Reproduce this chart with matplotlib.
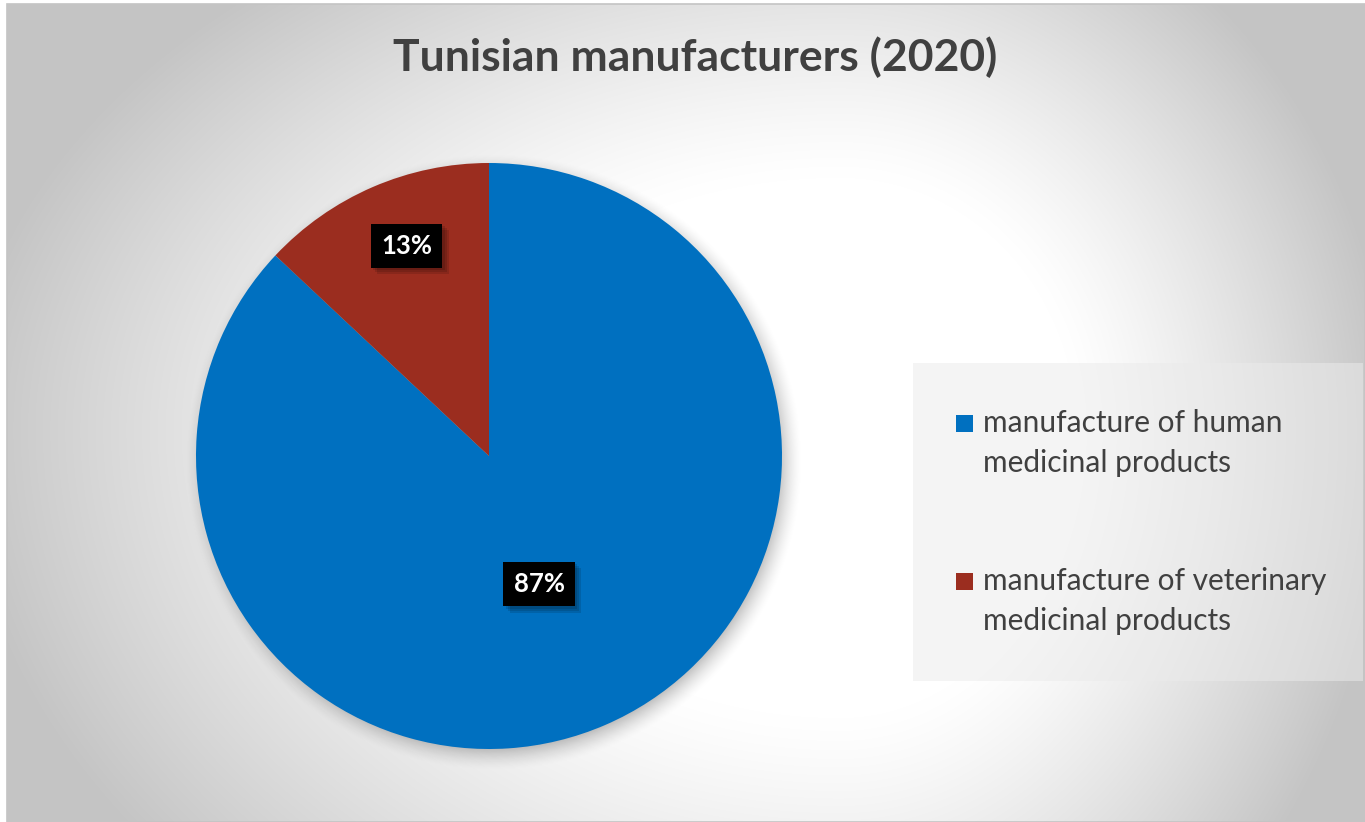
import numpy as np
import matplotlib.pyplot as plt
from matplotlib.patches import Rectangle
import matplotlib.patheffects as pe

# Share of Tunisian pharmaceutical manufacturers by activity, 2020
categories = ['manufacture of human\nmedicinal products',
              'manufacture of veterinary\nmedicinal products']
shares = [87, 13]
colors = ['#0070C0', '#9B2D1F']
title = 'Tunisian manufacturers (2020)'

W, H = 1365, 822
plt.rcParams['font.family'] = ['Lato', 'DejaVu Sans']

fig = plt.figure(figsize=(W / 100, H / 100), dpi=100)
fig.patch.set_facecolor('white')
ax = fig.add_axes([0, 0, 1, 1])

# Radial grey-to-white background of the chart area
x0, y0 = 7, 4
gx, gy = np.meshgrid(np.arange(x0, W) + 0.5, np.arange(y0, H) + 0.5)
cx, cy = 840, 430
sx = np.where(gx < cx, 840, 525)
sy = np.where(gy < cy, 560, 640)
d = np.sqrt(((gx - cx) / sx) ** 2 + ((gy - cy) / sy) ** 2)
t = np.clip((d - 0.45) / 0.6, 0, 1) ** 1.2
shade = 1 - 0.23 * t
bg = np.dstack([shade, shade, shade])
ax.imshow(bg, extent=(x0, W, H, y0), zorder=0, interpolation='bilinear')
ax.add_patch(Rectangle((x0, y0), W - x0, H - y0, fill=False,
                       edgecolor='#c4c4c4', lw=1.2, zorder=1))

# Pie geometry (pixel units, y axis points down)
pcx, pcy, r = 489, 456, 293

# soft drop shadow under the pie
dist = np.sqrt((gx - pcx - 5) ** 2 + (gy - pcy - 6) ** 2)
a = np.clip((r + 16 - dist) / 26, 0, 1) ** 1.6 * 0.28
shadow = np.zeros(gx.shape + (4,))
shadow[..., 3] = a
ax.imshow(shadow, extent=(x0, W, H, y0), zorder=2, interpolation='bilinear')

wedges, _ = ax.pie(shares, colors=colors, startangle=-90, counterclock=True,
                   center=(pcx, pcy), radius=r, frame=True,
                   wedgeprops=dict(linewidth=0, zorder=3))
for w in wedges:
    w.set_zorder(3)

# Percentage labels in black boxes with a blurred shadow
label_dist = [0.47, 0.77]
box_shadow = [pe.SimplePatchShadow(offset=(k, -k), shadow_rgbFace='black',
                                   alpha=0.12) for k in (1.5, 3, 4.5)]
for w, val, ld in zip(wedges, shares, label_dist):
    mid = np.deg2rad((w.theta1 + w.theta2) / 2 + 2)
    lx = pcx + ld * r * np.cos(mid)
    ly = pcy + ld * r * np.sin(mid)
    txt = ax.text(lx, ly, f'{val}%', color='white', fontsize=18.5,
                  fontweight='bold', ha='center', va='center', zorder=5,
                  bbox=dict(boxstyle='square,pad=0.4', fc='black', ec='none'))
    txt.get_bbox_patch().set_path_effects(box_shadow + [pe.Normal()])

ax.text(695, 57, title, fontsize=32, fontweight='bold', color='#404040',
        ha='center', va='center', zorder=5)

# Legend panel
ax.add_patch(Rectangle((913, 363), 450, 318, facecolor='#ebebeb', alpha=0.52,
                       edgecolor='none', zorder=4))
entry_y = [432, 590]
for label, col, by in zip(categories, colors, entry_y):
    ax.add_patch(Rectangle((956, by - 17), 17, 17, facecolor=col,
                           edgecolor='none', zorder=5))
    for i, line in enumerate(label.split('\n')):
        ax.text(983, by + i * 40, line, fontsize=21.5, color='#404040',
                ha='left', va='baseline', zorder=5)

ax.set_xlim(0, W)
ax.set_ylim(H, 0)
ax.set_aspect('equal')
ax.axis('off')

fig.savefig('out.png', dpi=100, facecolor=fig.get_facecolor())
